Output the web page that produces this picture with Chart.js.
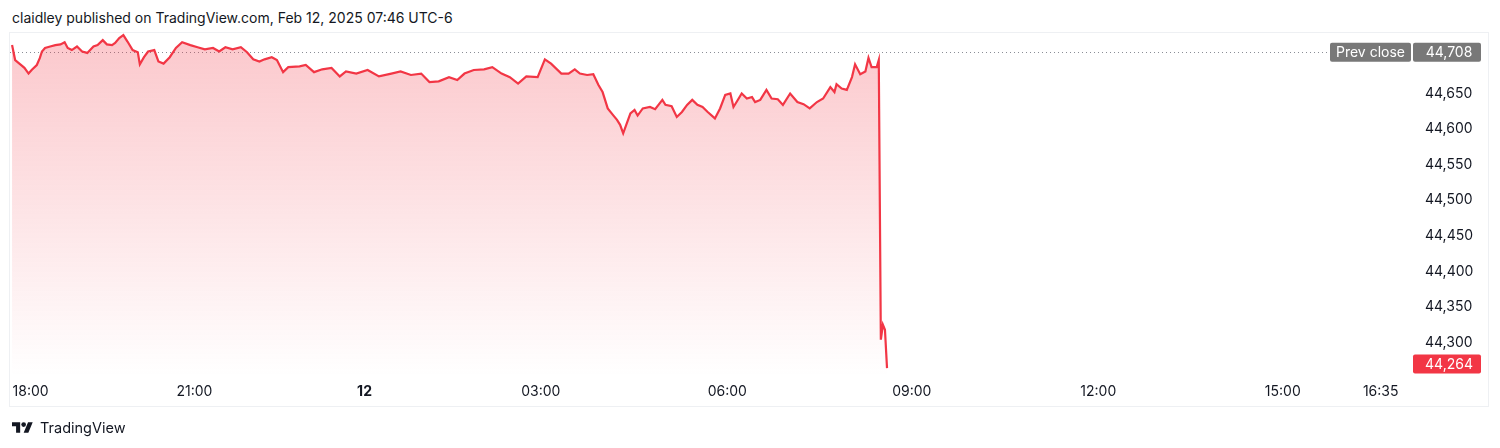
<!DOCTYPE html>
<html>
<head>
<meta charset="utf-8">
<script src="https://cdn.jsdelivr.net/npm/chart.js@4"></script>
<style>
  html, body { margin: 0; padding: 0; background: #ffffff; }
  #wrap { position: relative; width: 1500px; height: 448px; overflow: hidden; font-family: Inter, "Noto Sans", sans-serif; }
  #header { position: absolute; left: 12px; top: 9px; font-size: 14px; color: #131722; white-space: nowrap; line-height: 18px; }
  #frame { position: absolute; left: 9px; top: 32px; width: 1478px; height: 373px; border: 1px solid #eef0f3; box-sizing: content-box; pointer-events: none; }
  #footer { position: absolute; left: 12px; top: 418px; height: 18px; display: flex; align-items: center; font-size: 14.5px; color: #131722; white-space: nowrap; }
  #footer svg { width: 21px; height: 11px; margin-right: 7px; }
  canvas { position: absolute; left: 0; top: 0; }
</style>
</head>
<body>
<div id="wrap">
  <div id="header">claidley published on TradingView.com, Feb 12, 2025 07:46 UTC-6</div>
  <div id="frame"></div>
  <canvas id="c" width="1500" height="448"></canvas>
  <div id="footer"><svg viewBox="0 4 36 18" xmlns="http://www.w3.org/2000/svg"><path fill="#131722" d="M14 22H7V11H0V4h14v18zM28 22h-8l7.5-18h8L28 22z"/><circle fill="#131722" cx="20" cy="8" r="4"/></svg><span>TradingView</span></div>
</div>
<script>
// 1-minute bar number since the start of the plotted session
const barIdx = [
  0,3,8,12,16,19,24,27,29,32,37,42,47,51,54,58,63,68,73,79,
  83,88,92,97,100,104,108,112,117,122,124,128,132,138,142,147,153,159,165,173,
  180,187,195,201,207,214,222,228,234,240,245,252,257,263,268,279,285,293,301,310,
  318,324,334,345,356,368,377,387,397,405,414,424,432,439,448,458,466,475,483,491,
  499,510,517,523,533,540,546,551,558,564,569,573,578,583,587,590,593,597,600,604,
  607,612,619,624,631,634,640,645,650,655,660,665,670,675,682,687,692,697,700,703,
  708,713,718,721,726,732,737,743,748,755,762,768,774,781,787,794,798,800,805,810,
  815,818,823,828,831,834,839,841,843,845,847,849
];
// Dow index value at each bar
const price = [
  44718,44697,44691,44686,44678,44683,44690,44700,44709,44714,44716,44718,44719,44722,44714,44711,44716,44709,44707,44716,
  44718,44725,44719,44718,44721,44728,44732,44723,44711,44708,44691,44701,44709,44711,44695,44692,44701,44714,44722,44718,
  44715,44712,44714,44709,44715,44712,44715,44708,44698,44695,44698,44701,44697,44680,44687,44688,44690,44680,44684,44686,
  44674,44681,44678,44683,44674,44678,44681,44676,44678,44666,44667,44673,44669,44678,44683,44684,44687,44678,44673,44664,
  44674,44673,44698,44692,44678,44678,44684,44678,44676,44677,44662,44652,44629,44620,44613,44606,44594,44610,44622,44627,
  44619,44629,44631,44628,44641,44634,44632,44617,44624,44634,44641,44634,44631,44624,44615,44629,44648,44650,44631,44638,
  44650,44643,44645,44638,44641,44655,44643,44642,44634,44650,44638,44635,44629,44638,44643,44659,44652,44663,44657,44655,
  44673,44691,44677,44681,44700,44687,44687,44697,44304,44325,44318,44264
];
const xTickBars = [18, 177, 342, 513, 694, 873, 1054, 1233, 1328];
const xTickLabels = ['18:00', '21:00', '12', '03:00', '06:00', '09:00', '12:00', '15:00', '16:35'];
const yTickValues = [44300, 44350, 44400, 44450, 44500, 44550, 44600, 44650];
const prevClose = 44708;
const lastPrice = 44264;

const FONT = 'Inter, "Noto Sans", sans-serif';
const RED = '#f23645';
const fmt = v => Math.round(v).toLocaleString('en-US');

const points = barIdx.map((b, i) => ({ x: b, y: price[i] }));

function roundRect(ctx, x, y, w, h, r) {
  ctx.beginPath();
  ctx.moveTo(x + r, y);
  ctx.lineTo(x + w - r, y);
  ctx.quadraticCurveTo(x + w, y, x + w, y + r);
  ctx.lineTo(x + w, y + h - r);
  ctx.quadraticCurveTo(x + w, y + h, x + w - r, y + h);
  ctx.lineTo(x + r, y + h);
  ctx.quadraticCurveTo(x, y + h, x, y + h - r);
  ctx.lineTo(x, y + r);
  ctx.quadraticCurveTo(x, y, x + r, y);
  ctx.closePath();
}

const overlay = {
  id: 'overlay',
  beforeDatasetsDraw(chart) {
    const { ctx, chartArea } = chart;
    const yy = Math.round(chart.scales.y.getPixelForValue(prevClose)) + 0.5;
    ctx.save();
    ctx.strokeStyle = '#8a8d96';
    ctx.lineWidth = 1;
    ctx.setLineDash([1, 3]);
    ctx.beginPath();
    ctx.moveTo(chartArea.left, yy);
    ctx.lineTo(chartArea.right - 82, yy);
    ctx.stroke();
    ctx.restore();
  },
  afterDraw(chart) {
    const { ctx, chartArea } = chart;
    const ys = chart.scales.y;
    const R = chartArea.right;
    ctx.save();
    ctx.font = '14px ' + FONT;
    ctx.textBaseline = 'middle';
    ctx.textAlign = 'center';
    // prev close labels
    const yp = ys.getPixelForValue(prevClose);
    const h = 19;
    ctx.fillStyle = '#787878';
    roundRect(ctx, R - 82, yp - h / 2, 81, h, 2);
    ctx.fill();
    roundRect(ctx, R + 1, yp - h / 2, 68, h, 2);
    ctx.fill();
    ctx.fillStyle = '#ffffff';
    ctx.fillText('Prev close', R - 41.5, yp + 0.5);
    ctx.fillText(fmt(prevClose), R + 37, yp + 0.5);
    // last price label
    let yl = ys.getPixelForValue(lastPrice);
    yl = Math.min(yl, chartArea.bottom - 12);
    ctx.fillStyle = RED;
    roundRect(ctx, R + 1, yl - h / 2, 68, h, 2);
    ctx.fill();
    ctx.fillStyle = '#ffffff';
    ctx.fillText(fmt(lastPrice), R + 37, yl + 0.5);
    ctx.restore();
  }
};

new Chart(document.getElementById('c'), {
  type: 'line',
  data: {
    datasets: [{
      data: points,
      borderColor: RED,
      borderWidth: 2.2,
      pointRadius: 0,
      tension: 0,
      fill: 'start',
      backgroundColor(context) {
        const { chart } = context;
        const area = chart.chartArea;
        if (!area) return 'rgba(242,54,69,0.25)';
        const g = chart.ctx.createLinearGradient(0, area.top, 0, area.bottom);
        g.addColorStop(0, 'rgba(242,54,69,0.28)');
        g.addColorStop(1, 'rgba(242,54,69,0.0)');
        return g;
      }
    }]
  },
  options: {
    responsive: false,
    animation: false,
    events: [],
    layout: { padding: { left: 10, top: 33, right: 12, bottom: 42 } },
    plugins: { legend: { display: false }, tooltip: { enabled: false } },
    scales: {
      x: {
        type: 'linear',
        min: -2,
        max: 1358.4,
        grid: { display: false, drawTicks: false },
        border: { display: false },
        afterFit(scale) { scale.height = 30; },
        afterBuildTicks(scale) { scale.ticks = xTickBars.map(v => ({ value: v })); },
        ticks: {
          autoSkip: false,
          maxRotation: 0,
          padding: 7,
          color: '#131722',
          font(c) {
            const lbl = c.tick ? xTickLabels[xTickBars.indexOf(c.tick.value)] : '';
            return { family: FONT, size: 14, weight: lbl === '12' ? 'bold' : 'normal' };
          },
          callback(value) {
            const i = xTickBars.indexOf(value);
            return i >= 0 ? xTickLabels[i] : '';
          }
        }
      },
      y: {
        type: 'linear',
        position: 'right',
        min: 44253,
        max: 44735,
        grid: { display: false, drawTicks: false },
        border: { display: false },
        afterFit(scale) { scale.width = 76; },
        afterBuildTicks(scale) { scale.ticks = yTickValues.map(v => ({ value: v })); },
        ticks: {
          padding: 13,
          color: '#131722',
          font: { family: FONT, size: 14 },
          callback: v => fmt(v)
        }
      }
    }
  },
  plugins: [overlay]
});
</script>
</body>
</html>
